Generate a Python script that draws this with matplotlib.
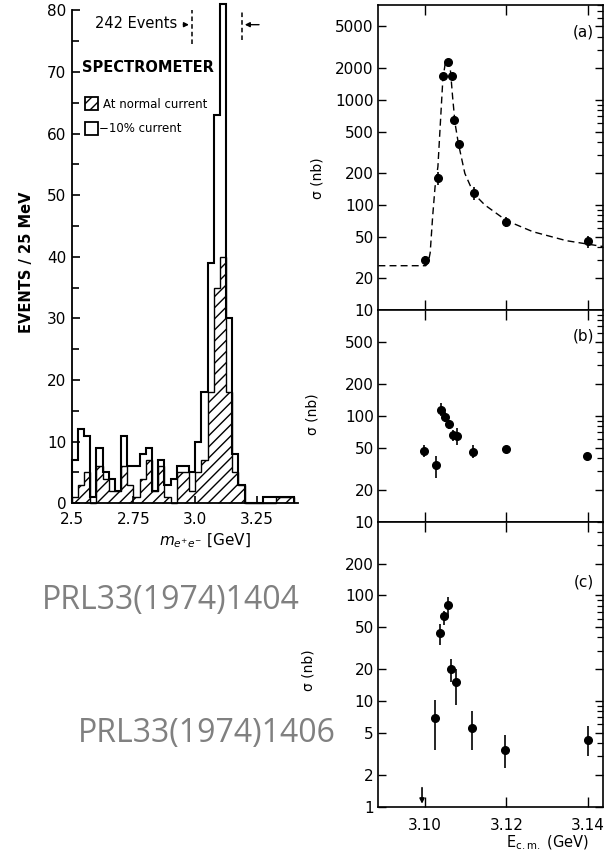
import numpy as np
import matplotlib
matplotlib.use("Agg")
import matplotlib.pyplot as plt
from matplotlib.patches import Rectangle
from matplotlib.ticker import FixedLocator, FixedFormatter, LogLocator, NullFormatter, NullLocator

plt.rcParams['font.family'] = ['DejaVu Sans']

# ---------------- data: left histogram (PRL 33, 1404) ----------------
bin_start = 2.5
bin_width = 0.025
open_counts = [7, 12, 11, 1, 9, 5, 4, 2, 11, 6, 6, 8, 9, 2, 7, 3, 4, 6, 6, 5,
               10, 18, 39, 63, 81, 30, 8, 3, 0, 0, 0, 1, 1, 1, 1, 1]
hatched_counts = [1, 3, 5, 0, 6, 4, 2, 2, 6, 3, 1, 4, 7, 2, 6, 1, 0, 5, 5, 2,
                  5, 7, 18, 35, 40, 18, 5, 3, 0, 0, 0, 0, 0, 1, 1, 1]
hist_xticks = [2.5, 2.75, 3.0, 3.25]
hist_xticklabels = ["2.5", "2.75", "3.0", "3.25"]
hist_yticks = [0, 10, 20, 30, 40, 50, 60, 70, 80]

# ---------------- data: right panels (PRL 33, 1406) ----------------
a_E = [3.1000, 3.1032, 3.1044, 3.1056, 3.1066, 3.1072, 3.1084, 3.1120, 3.1200, 3.1400]
a_sig = [30, 180, 1700, 2300, 1700, 650, 380, 130, 69, 45]
a_err = [3, 25, 120, 160, 120, 50, 30, 18, 8, 6]

a_curve_E = [3.0886, 3.0950, 3.1002, 3.1008, 3.1013, 3.1019, 3.1025, 3.1032, 3.1038,
             3.1044, 3.1050, 3.1056, 3.1062, 3.1068, 3.1074, 3.1082, 3.1098, 3.1120,
             3.1147, 3.1200, 3.1265, 3.1347, 3.1440]
a_curve_sig = [26.4, 26.4, 26.4, 28, 35, 77, 149, 232, 600,
               1550, 2240, 2400, 2070, 1070, 600, 388, 200, 128,
               100, 71, 55.6, 45.7, 40]

b_E = [3.0998, 3.1027, 3.1039, 3.1049, 3.1059, 3.1068, 3.1078, 3.1117, 3.1198, 3.1398]
b_sig = [47, 34, 114, 98, 83, 66, 65, 46, 49, 42]
b_err_lo = [6, 8, 15, 10, 8, 8, 12, 6, 3, 3]
b_err_hi = [6, 8, 19, 10, 8, 8, 12, 7, 3, 3]

c_E = [3.1024, 3.1036, 3.1047, 3.1057, 3.1065, 3.1076, 3.1115, 3.1197, 3.1400]
c_sig = [6.9, 43.6, 63.6, 81.6, 20.1, 15.2, 5.6, 3.4, 4.3]
c_err_lo = [3.5, 10, 10.6, 19.6, 5.1, 6.0, 2.2, 1.1, 1.3]
c_err_hi = [3.4, 10.4, 8.4, 15.4, 4.9, 4.8, 2.5, 1.4, 1.5]
c_limit_E = 3.0993
c_limit_sig = 1.6

e_ticks = [3.10, 3.12, 3.14]
e_ticklabels = ["3.10", "3.12", "3.14"]
a_yticks = [10, 20, 50, 100, 200, 500, 1000, 2000, 5000]
b_yticks = [10, 20, 50, 100, 200, 500]
c_yticks = [1, 2, 5, 10, 20, 50, 100, 200]

# ---------------- figure ----------------
W, H = 615, 855
fig = plt.figure(figsize=(W / 100, H / 100), dpi=100)
fig.patch.set_facecolor("white")


def px_axes(l, t, r, b):
    return fig.add_axes([l / W, 1 - b / H, (r - l) / W, (b - t) / H])


def fx(px):
    return px / W


def fy(py):
    return 1 - py / H


# ---------- left histogram ----------
axh = px_axes(71.7, 10.4, 298, 503.3)
edges = bin_start + bin_width * np.arange(len(open_counts) + 1)
axh.stairs(open_counts, edges, baseline=0, fill=False, color="black", lw=1.5, clip_on=False)
axh.stairs(hatched_counts, edges, baseline=0, fill=True, facecolor="none",
           edgecolor="black", hatch="///", lw=1.0, clip_on=False)
axh.set_xlim(2.5, 3.416)
axh.set_ylim(0, 80)
for s in ["top", "right"]:
    axh.spines[s].set_visible(False)
axh.spines["left"].set_linewidth(1.3)
axh.spines["bottom"].set_linewidth(1.3)
axh.set_yticks(hist_yticks)
axh.yaxis.set_minor_locator(FixedLocator([5, 15, 25, 35, 45, 55, 65, 75]))
axh.set_xticks(hist_xticks)
axh.set_xticklabels(hist_xticklabels)
axh.tick_params(axis="y", which="major", direction="in", length=6, width=1.2, labelsize=11, pad=4)
axh.tick_params(axis="y", which="minor", direction="in", length=5, width=1.2)
axh.tick_params(axis="x", which="major", direction="in", length=5, width=1.2, labelsize=11, pad=6)

fig.text(fx(27), fy(262), "EVENTS / 25 MeV", rotation=90, ha="center", va="center",
         fontsize=10.5, fontweight="bold")
fig.text(fx(205), fy(541), r"$m_{e^{+}e^{-}}$ [GeV]", ha="center", va="center", fontsize=11)

# 242 events marker
x_l = 2.5 + (191.7 - 71.7) / 247
x_r = 2.5 + (242 - 71.7) / 247
y_txt = (503.3 - 24) / 6.17
axh.plot([x_l, x_l], [74.5, 80], ls=(0, (3, 2)), color="black", lw=1.1, clip_on=False)
axh.plot([x_r, x_r], [75.2, 80], ls=(0, (3, 2)), color="black", lw=1.1, clip_on=False)
axh.annotate("", xy=(x_l, y_txt), xytext=(x_l - 0.045, y_txt),
             arrowprops=dict(arrowstyle="-|>", color="black", lw=1.0, mutation_scale=7),
             annotation_clip=False)
axh.annotate("", xy=(x_r, y_txt), xytext=(x_r + 0.08, y_txt),
             arrowprops=dict(arrowstyle="-|>", color="black", lw=1.0, mutation_scale=7),
             annotation_clip=False)
fig.text(fx(177), fy(24), "242 Events", ha="right", va="center", fontsize=10.5)
fig.text(fx(82), fy(68), "SPECTROMETER", ha="left", va="center", fontsize=10.5, fontweight="bold")

# legend boxes
fig.patches.append(Rectangle((fx(85), fy(110)), 13 / W, 13 / H, transform=fig.transFigure,
                             facecolor="none", edgecolor="black", hatch="///", lw=1.3))
fig.patches.append(Rectangle((fx(85), fy(135)), 13 / W, 13 / H, transform=fig.transFigure,
                             facecolor="none", edgecolor="black", lw=1.3))
fig.text(fx(103), fy(104), "At normal current", ha="left", va="center", fontsize=8.5)
fig.text(fx(99), fy(128), "\u221210% current", ha="left", va="center", fontsize=8.5)

# ---------- right panels ----------
L, R = 378, 603
axa = px_axes(L, 5, R, 310)
axb = px_axes(L, 310, R, 521.7)
axc = px_axes(L, 521.7, R, 806.5)

xlim = (3.0885, 3.1437)


def style_log(ax, yticks, ylim, labels_shown):
    ax.set_yscale("log")
    ax.set_xlim(*xlim)
    ax.set_ylim(*ylim)
    ax.yaxis.set_major_locator(FixedLocator(yticks))
    ax.yaxis.set_major_formatter(FixedFormatter([str(v) for v in yticks]))
    ax.yaxis.set_minor_locator(LogLocator(base=10, subs=np.arange(2, 10)))
    ax.yaxis.set_minor_formatter(NullFormatter())
    ax.set_xticks(e_ticks)
    ax.xaxis.set_minor_locator(NullLocator())
    for s in ax.spines.values():
        s.set_linewidth(1.2)
    ax.tick_params(axis="y", which="major", direction="in", left=True, right=True,
                   length=6, width=1.0, labelsize=11, pad=3)
    ax.tick_params(axis="y", which="minor", direction="in", left=False, right=True,
                   length=4, width=0.9)
    ax.tick_params(axis="x", which="major", direction="in", top=True, bottom=True,
                   length=7, width=1.0, labelsize=11, pad=8)
    if not labels_shown:
        ax.tick_params(axis="x", labelbottom=False)


style_log(axa, a_yticks, (10, 8000), False)
style_log(axb, b_yticks, (10, 1000), False)
style_log(axc, c_yticks, (1, 500), True)
axc.set_xticklabels(e_ticklabels)

axa.plot(a_curve_E, a_curve_sig, ls=(0, (5, 3)), color="black", lw=1.0)
axa.errorbar(a_E, a_sig, yerr=a_err, fmt="o", color="black", ms=5.5, elinewidth=1.2, capsize=0)
axb.errorbar(b_E, b_sig, yerr=[b_err_lo, b_err_hi], fmt="o", color="black", ms=5.5,
             elinewidth=1.2, capsize=0)
axc.errorbar(c_E, c_sig, yerr=[c_err_lo, c_err_hi], fmt="o", color="black", ms=5.5,
             elinewidth=1.2, capsize=0)
axc.annotate("", xy=(c_limit_E, 1.0), xytext=(c_limit_E, c_limit_sig),
             arrowprops=dict(arrowstyle="-|>", color="black", lw=1.2, mutation_scale=7))

axa.text(0.96, 0.91, "(a)", transform=axa.transAxes, ha="right", va="center", fontsize=11)
axb.text(0.96, 0.877, "(b)", transform=axb.transAxes, ha="right", va="center", fontsize=11)
axc.text(0.96, 0.79, "(c)", transform=axc.transAxes, ha="right", va="center", fontsize=11)

fig.text(fx(317), fy(178), "\u03c3 (nb)", rotation=90, ha="center", va="center", fontsize=10)
fig.text(fx(313), fy(414), "\u03c3 (nb)", rotation=90, ha="center", va="center", fontsize=10)
fig.text(fx(308), fy(670), "\u03c3 (nb)", rotation=90, ha="center", va="center", fontsize=10)
fig.text(fx(548), fy(843), r"$\mathrm{E_{c.m.}}$ (GeV)", ha="center", va="center", fontsize=10.5)

# ---------- reference labels ----------
fig.text(fx(300), fy(600), "PRL33(1974)1404", ha="right", va="center", fontsize=23,
         color="#808080", family="Open Sans")
fig.text(fx(78), fy(733), "PRL33(1974)1406", ha="left", va="center", fontsize=23,
         color="#808080", family="Open Sans")

fig.savefig("out.png", dpi=100, facecolor="white")
